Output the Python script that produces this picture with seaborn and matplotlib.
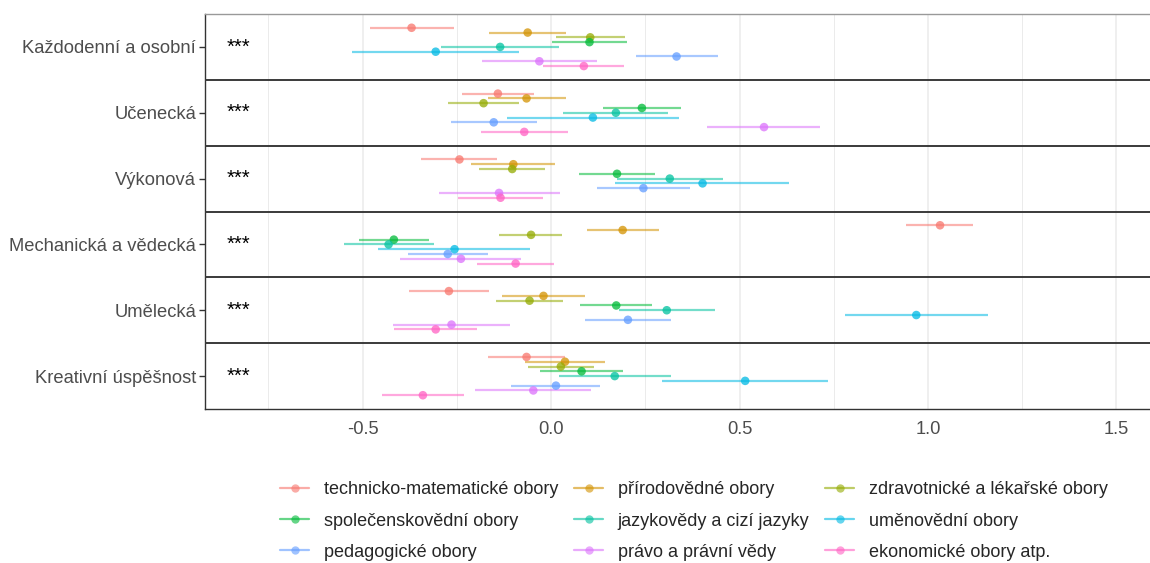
import numpy as np
import pandas as pd
import matplotlib
matplotlib.use("Agg")
import matplotlib.pyplot as plt
from matplotlib.lines import Line2D
import seaborn as sns

# ================= DATA =================
facets = ["Každodenní a osobní", "Učenecká", "Výkonová",
          "Mechanická a vědecká", "Umělecká", "Kreativní úspěšnost"]
signif = ["***", "***", "***", "***", "***", "***"]

groups = ["technicko-matematické obory", "přírodovědné obory",
          "zdravotnické a lékařské obory", "společenskovědní obory",
          "jazykovědy a cizí jazyky", "uměnovědní obory",
          "pedagogické obory", "právo a právní vědy",
          "ekonomické obory atp."]

# rows = facets, columns = groups
estimate = [
    [-0.370, -0.062, 0.104, 0.102, -0.135, -0.306, 0.333, -0.031, 0.087],
    [-0.141, -0.065, -0.179, 0.241, 0.172, 0.111, -0.152, 0.565, -0.071],
    [-0.243, -0.100, -0.103, 0.175, 0.315, 0.402, 0.245, -0.138, -0.134],
    [1.032, 0.190, -0.053, -0.417, -0.431, -0.256, -0.274, -0.239, -0.094],
    [-0.271, -0.020, -0.057, 0.173, 0.307, 0.969, 0.204, -0.264, -0.306],
    [-0.065, 0.037, 0.026, 0.081, 0.169, 0.515, 0.013, -0.047, -0.340],
]
lower = [
    [-0.481, -0.164, 0.013, 0.003, -0.292, -0.527, 0.226, -0.183, -0.021],
    [-0.236, -0.168, -0.273, 0.138, 0.031, -0.118, -0.266, 0.415, -0.187],
    [-0.345, -0.211, -0.191, 0.074, 0.175, 0.170, 0.121, -0.297, -0.248],
    [0.943, 0.095, -0.137, -0.509, -0.550, -0.458, -0.380, -0.401, -0.196],
    [-0.377, -0.130, -0.147, 0.077, 0.180, 0.779, 0.089, -0.420, -0.416],
    [-0.166, -0.069, -0.061, -0.029, 0.022, 0.295, -0.106, -0.202, -0.448],
]
upper = [
    [-0.258, 0.041, 0.195, 0.202, 0.021, -0.086, 0.442, 0.121, 0.194],
    [-0.045, 0.039, -0.084, 0.345, 0.311, 0.339, -0.037, 0.714, 0.045],
    [-0.143, 0.010, -0.017, 0.277, 0.455, 0.631, 0.369, 0.023, -0.020],
    [1.120, 0.286, 0.029, -0.325, -0.311, -0.056, -0.167, -0.080, 0.008],
    [-0.165, 0.091, 0.032, 0.269, 0.435, 1.158, 0.318, -0.110, -0.197],
    [0.038, 0.142, 0.113, 0.191, 0.317, 0.734, 0.131, 0.107, -0.231],
]

# ggplot hue palette
barvy = ["#F8766D", "#D39200", "#93AA00", "#00BA38", "#00C19F",
         "#00B9E3", "#619CFF", "#DB72FB", "#FF61C3"]

# ================= TABULKA =================
DODGE = 0.0727
rows = []
for i, f in enumerate(facets):
    for j, g in enumerate(groups):
        rows.append({"facet": f, "group": g, "est": estimate[i][j],
                     "lo": lower[i][j], "hi": upper[i][j],
                     "ypos": i + (j - 4) * DODGE})
df = pd.DataFrame(rows)
pal = dict(zip(groups, barvy))

# ================= GRAF =================
sns.set_theme(style="white")
plt.rcParams['font.family'] = ['Liberation Sans', 'DejaVu Sans']

fig = plt.figure(figsize=(11.5, 5.63), dpi=100)
ax = fig.add_axes([205 / 1150, 1 - 409 / 563, 945 / 1150, 395 / 563])

# mrizka
for x in [-0.75, -0.5, -0.25, 0, 0.25, 0.5, 0.75, 1.0, 1.25, 1.5]:
    ax.axvline(x, color="#EBEBEB", lw=1.1 if x % 0.5 == 0 else 0.7, zorder=0)

# chybove usecky
for g in groups:
    d = df[df["group"] == g]
    ax.hlines(d["ypos"], d["lo"], d["hi"], color=pal[g], lw=1.6,
              alpha=0.55, zorder=2)

sns.scatterplot(data=df, x="est", y="ypos", hue="group", palette=pal,
                s=38, alpha=0.75, edgecolor="none", legend=False, ax=ax,
                zorder=3)

# hvezdicky
for i, s in enumerate(signif):
    ax.text(-0.83, i, s, ha="center", va="center", fontsize=14.5, color="black")

# oddelovace panelu
for k in range(1, len(facets)):
    ax.axhline(k - 0.5, color="#3a3a3a", lw=1.4, zorder=4)

ax.set_xlim(-0.918, 1.589)
ax.set_ylim(len(facets) - 0.5, -0.5)
ax.set_yticks(range(len(facets)))
ax.set_yticklabels(facets)
ax.set_xticks([-0.5, 0.0, 0.5, 1.0, 1.5])
ax.set_xticklabels(["-0.5", "0.0", "0.5", "1.0", "1.5"])
ax.set_xlabel("")
ax.set_ylabel("")
ax.tick_params(axis="y", length=4.5, width=1, color="#333333",
               labelsize=13.2, labelcolor="#4D4D4D", pad=2, left=True)
ax.tick_params(axis="x", length=0, labelsize=13.2, labelcolor="#4D4D4D",
               pad=9)
for side in ["top", "left", "bottom"]:
    ax.spines[side].set_color("#333333")
    ax.spines[side].set_linewidth(1.0)
ax.spines["top"].set_color("#999999")
ax.spines["right"].set_visible(False)

# legenda (radkove poradi jako v ggplot)
handles = [Line2D([0], [0], color=c, lw=1.6, alpha=0.6, marker="o",
                  markersize=6, markeredgewidth=0) for c in barvy]
order = [0, 3, 6, 1, 4, 7, 2, 5, 8]
fig.legend([handles[k] for k in order], [groups[k] for k in order],
           loc="center", bbox_to_anchor=(694 / 1150, 1 - 521 / 563),
           ncol=3, frameon=False, fontsize=13, handlelength=1.6,
           handletextpad=0.8, columnspacing=0.9, labelspacing=0.78)

fig.savefig("out.png", dpi=100)
